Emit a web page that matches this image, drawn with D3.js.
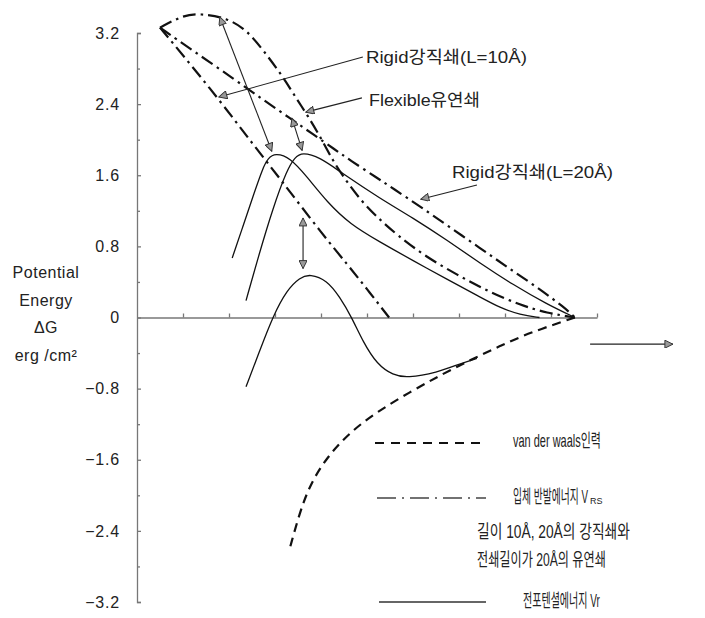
<!DOCTYPE html>
<html>
<head>
<meta charset="utf-8">
<script src="https://cdn.jsdelivr.net/npm/d3@7"></script>
<style>
  body { margin: 0; background: #fff; }
  text { font-family: "Liberation Sans", "Noto Sans CJK KR", sans-serif; fill: #222; }
</style>
</head>
<body>
<div id="chart"></div>
<script>
// axis ticks
const yMajorTicks = [3.2, 2.4, 1.6, 0.8, 0, -0.8, -1.6, -2.4, -3.2];
const yMinorTicks = [2.8, 2.0, 1.2, 0.4, -0.4, -1.2, -2.0, -2.8];
const xTicks = [1, 2, 3, 4, 5, 6, 7, 8, 9, 10];
const yTitle = ["Potential", "Energy", "ΔG", "erg /cm²"];

// steric repulsion V_RS (dash-dot)
const rigid10Vrs = [[0.5, 3.26], [1.0, 2.95], [1.8, 2.44], [2.46, 1.99], [3.11, 1.56],
  [4.04, 0.93], [4.57, 0.60], [5.0, 0.32], [5.48, 0.0]];
const rigid20Vrs = [[0.5, 3.26], [1.22, 3.00], [2.09, 2.69], [2.74, 2.45], [3.33, 2.24],
  [3.83, 2.06], [4.30, 1.89], [4.63, 1.77], [5.22, 1.57], [5.57, 1.45], [6.15, 1.25],
  [6.76, 1.03], [7.46, 0.78], [8.04, 0.57], [8.70, 0.34], [9.30, 0.11], [9.52, 0.0]];
const flexibleVrs = [[0.5, 3.26], [1.0, 3.40], [1.37, 3.42], [1.96, 3.37], [2.39, 3.23],
  [2.74, 3.01], [3.17, 2.71], [3.48, 2.45], [3.70, 2.28], [4.02, 2.00], [4.26, 1.76],
  [4.57, 1.52], [4.91, 1.29], [5.28, 1.10], [5.65, 0.93], [6.26, 0.69], [6.96, 0.48],
  [7.61, 0.30], [8.33, 0.14], [8.91, 0.05], [9.52, 0.0]];

// total potential energy Vr (solid)
const totalPeakA = [[2.07, 0.67], [2.30, 1.02], [2.52, 1.36], [2.74, 1.69], [2.85, 1.79],
  [3.0, 1.85], [3.33, 1.80], [3.70, 1.58], [4.13, 1.30], [4.63, 1.05], [5.28, 0.85],
  [6.0, 0.64], [6.74, 0.43], [7.46, 0.23], [7.89, 0.11], [8.33, 0.03], [8.75, 0.0]];
const totalPeakB = [[2.37, 0.19], [2.63, 0.67], [2.96, 1.24], [3.26, 1.66], [3.43, 1.80],
  [3.59, 1.86], [3.98, 1.80], [4.41, 1.64], [5.28, 1.34], [6.0, 1.12], [6.74, 0.87],
  [7.46, 0.61], [8.17, 0.37], [8.91, 0.15], [9.52, 0.0]];
const totalWell = [[2.37, -0.78], [2.67, -0.37], [2.96, 0.02], [3.26, 0.31], [3.54, 0.45],
  [3.76, 0.49], [4.13, 0.42], [4.41, 0.23], [4.67, 0.0], [4.91, -0.27], [5.22, -0.53],
  [5.57, -0.65], [5.87, -0.68], [6.52, -0.62], [7.02, -0.52], [7.39, -0.46]];

// van der Waals attraction (dashed)
const vanDerWaals = [[9.52, 0.0], [8.54, -0.17], [7.89, -0.32], [7.24, -0.48], [6.59, -0.65],
  [5.93, -0.84], [5.22, -1.06], [4.63, -1.29], [4.13, -1.57], [3.76, -1.88], [3.54, -2.19],
  [3.33, -2.58]];

// arrows [from, to, double-headed]
const arrows = [
  [[1.80, 3.38], [2.93, 1.87], true],
  [[3.37, 2.24], [3.59, 1.88], true],
  [[3.61, 1.12], [3.61, 0.55], true],
  [[4.91, 2.93], [1.78, 2.48], false],
  [[4.89, 2.47], [3.67, 2.31], false],
  [[7.39, 1.49], [6.17, 1.33], false],
  [[9.85, -0.30], [11.65, -0.30], false]
];

const calloutLabels = ["Rigid강직쇄(L=10Å)", "Flexible유연쇄", "Rigid강직쇄(L=20Å)"];
const legendLabels = ["van der waals인력", "입체 반발에너지 V", "길이 10Å, 20Å의 강직쇄와",
  "전쇄길이가 20Å의 유연쇄", "전포텐셜에너지 Vr"];

const width = 705, height = 618;

const svg = d3.select("#chart").append("svg")
  .attr("width", width)
  .attr("height", height);

const x = d3.scaleLinear().domain([0, 10]).range([137, 597]);
const y = d3.scaleLinear().domain([-3.2, 3.2]).range([602, 33]);

// squeeze a text horizontally to a given width (the scan's lettering is narrow)
function fitText(sel, pos) {
  sel.each(function (d, i) {
    const [px, py, w] = pos[i];
    const natural = this.getComputedTextLength();
    d3.select(this).attr("transform", `translate(${px},${py}) scale(${w / natural},1)`);
  });
}

// arrow head
const defs = svg.append("defs");
defs.append("marker")
  .attr("id", "head")
  .attr("viewBox", "0 0 10 10")
  .attr("refX", 10).attr("refY", 5)
  .attr("markerUnits", "userSpaceOnUse")
  .attr("markerWidth", 10).attr("markerHeight", 8)
  .attr("orient", "auto-start-reverse")
  .append("path")
  .attr("d", "M0,0L10,5L0,10Z")
  .attr("fill", "#999")
  .attr("stroke", "#333")
  .attr("stroke-width", 1.2);

// y axis
const fmt = d => d === 0 ? "0" : d3.format(".1f")(d);
const yAxisG = svg.append("g")
  .attr("transform", `translate(${x(0)},0)`)
  .call(d3.axisLeft(y).tickValues(yMajorTicks).tickSizeInner(-4).tickSizeOuter(-4)
    .tickPadding(17).tickFormat(fmt));
yAxisG.selectAll("text")
  .style("font-size", "16px")
  .style("letter-spacing", "0.8px")
  .attr("fill", "#333");

svg.append("g")
  .attr("transform", `translate(${x(0)},0)`)
  .call(d3.axisLeft(y).tickValues(yMinorTicks).tickSize(-3).tickFormat(""))
  .call(g => g.select(".domain").remove());

// x axis at zero
svg.append("g")
  .attr("transform", `translate(0,${y(0)})`)
  .call(d3.axisBottom(x).tickValues(xTicks).tickSizeInner(-4).tickSizeOuter(0).tickFormat(""));

svg.selectAll(".domain, .tick line")
  .attr("stroke", "#777")
  .attr("stroke-width", 1.3);

// y title
svg.append("g").selectAll("text")
  .data(yTitle)
  .join("text")
  .attr("x", 46)
  .attr("y", (d, i) => 278 + i * 27.5)
  .attr("text-anchor", "middle")
  .style("font-size", "16px")
  .style("letter-spacing", "0.5px")
  .attr("fill", "#333")
  .text(d => d);

// curves
const line = d3.line()
  .x(d => x(d[0]))
  .y(d => y(d[1]))
  .curve(d3.curveBasis);

const dashDot = "13,5,2.5,5";
const series = [
  { data: rigid10Vrs, dash: dashDot, w: 2.2 },
  { data: rigid20Vrs, dash: dashDot, w: 2.2 },
  { data: flexibleVrs, dash: dashDot, w: 2.2 },
  { data: vanDerWaals, dash: "9,6", w: 2.2 },
  { data: totalPeakA, dash: null, w: 1.3 },
  { data: totalPeakB, dash: null, w: 1.3 },
  { data: totalWell, dash: null, w: 1.3 }
];

svg.append("g").selectAll("path")
  .data(series)
  .join("path")
  .attr("d", d => line(d.data))
  .attr("fill", "none")
  .attr("stroke", "#111")
  .attr("stroke-width", d => d.w)
  .attr("stroke-dasharray", d => d.dash);

// arrows
svg.append("g").selectAll("line")
  .data(arrows)
  .join("line")
  .attr("x1", d => x(d[0][0]))
  .attr("y1", d => y(d[0][1]))
  .attr("x2", d => x(d[1][0]))
  .attr("y2", d => y(d[1][1]))
  .attr("stroke", "#222")
  .attr("stroke-width", 1.1)
  .attr("marker-end", "url(#head)")
  .attr("marker-start", d => d[2] ? "url(#head)" : null);

// callout labels
const calloutPos = [[366, 63, 161], [369, 106, 111], [452, 178, 161]];
svg.append("g").selectAll("text")
  .data(calloutLabels)
  .join("text")
  .style("font-size", "17px")
  .text(d => d)
  .call(fitText, calloutPos);

// legend
const legend = svg.append("g");
legend.append("line")
  .attr("x1", 375).attr("x2", 486).attr("y1", 443).attr("y2", 443)
  .attr("stroke", "#111").attr("stroke-width", 2).attr("stroke-dasharray", "9,7");
legend.append("line")
  .attr("x1", 377).attr("x2", 486).attr("y1", 498).attr("y2", 498)
  .attr("stroke", "#444").attr("stroke-width", 1.4).attr("stroke-dasharray", "19,6,2,6");
legend.append("line")
  .attr("x1", 379).attr("x2", 486).attr("y1", 602).attr("y2", 602)
  .attr("stroke", "#333").attr("stroke-width", 1.6);

const legendPos = [[513, 447, 88], [513, 503, 75], [477, 538, 153], [477, 566, 129], [523, 607, 77]];
legend.selectAll("text.lbl")
  .data(legendLabels)
  .join("text")
  .attr("class", "lbl")
  .style("font-size", "18px")
  .text(d => d)
  .call(fitText, legendPos);

// subscript of V_RS
legend.append("text")
  .attr("x", 590).attr("y", 504)
  .style("font-size", "9px")
  .text("RS");
</script>
</body>
</html>
